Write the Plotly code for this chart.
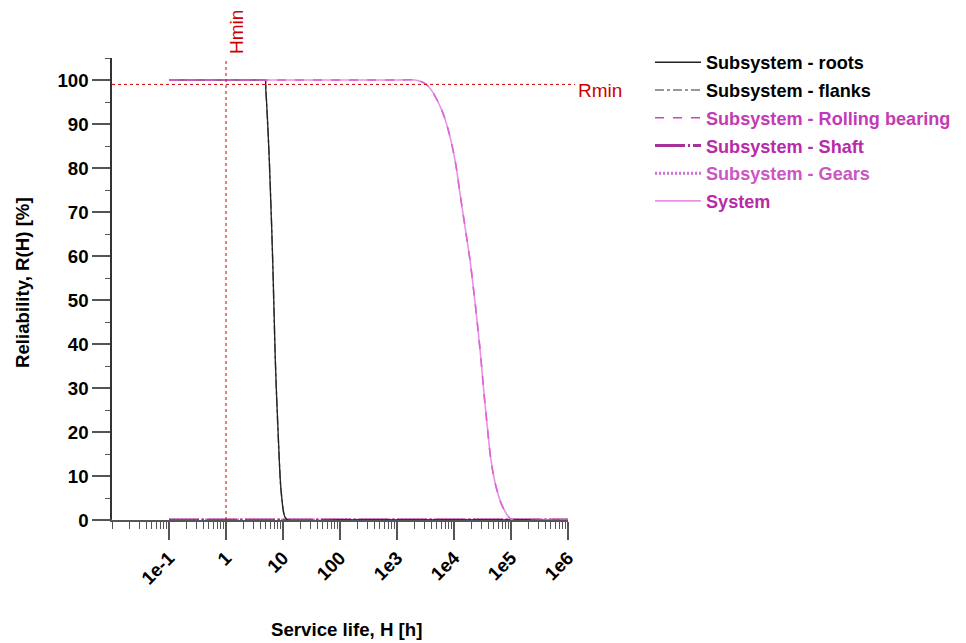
import plotly.graph_objects as go

# ---- data ----
H_roots = [0.1, 1, 4.0, 4.83, 5.0, 5.75, 6.59, 7.33, 8.61, 9.34, 10.8, 12.2, 100, 1e6]
R_roots = [100, 100, 100, 100, 97.7, 81.8, 59.1, 36.4, 13.6, 6.1, 0.7, 0, 0, 0]

H_flanks = [0.1, 1, 4.0, 4.83, 5.0, 5.75, 6.59, 7.33, 8.61, 9.34, 10.8, 12.2, 100, 1e6]
R_flanks = [100, 100, 100, 100, 97.7, 81.8, 59.1, 36.4, 13.6, 6.1, 0.7, 0, 0, 0]

H_bearing = [0.1, 10, 1000, 2070, 2710, 3400, 4340, 6080, 7640, 10420, 12740, 15590,
             19080, 22440, 26060, 29790, 33590, 38410, 44570, 54560, 71450, 105000,
             300000, 1e6]
R_bearing = [100, 100, 100, 100, 99.6, 98.8, 97.0, 93.2, 89.4, 81.8, 74.2, 66.7,
             59.1, 51.5, 43.9, 36.4, 28.8, 21.2, 13.6, 7.6, 3.0, 0, 0, 0]

H_shaft = [0.1, 1e6]
R_shaft = [0, 0]

H_gears = [0.1, 1e6]
R_gears = [0, 0]

H_system = [0.1, 10, 1000, 2070, 2710, 3400, 4340, 6080, 7640, 10420, 12740, 15590,
            19080, 22440, 26060, 29790, 33590, 38410, 44570, 54560, 71450, 105000,
            300000, 1e6]
R_system = [100, 100, 100, 100, 99.6, 98.8, 97.0, 93.2, 89.4, 81.8, 74.2, 66.7,
            59.1, 51.5, 43.9, 36.4, 28.8, 21.2, 13.6, 7.6, 3.0, 0, 0, 0]

H_min = 1
R_min = 99

x_tickvals = [0.1, 1, 10, 100, 1e3, 1e4, 1e5, 1e6]
x_ticktext = ["1e-1", "1", "10", "100", "1e3", "1e4", "1e5", "1e6"]
y_tickvals = [0, 10, 20, 30, 40, 50, 60, 70, 80, 90, 100]

FONT = "Liberation Sans, Arial, sans-serif"
RED = "#cc0000"

def lbl(text, color, bold=True):
    t = f"<span style='color:{color}'>{text}</span>"
    return f"<b>{t}</b>" if bold else t

fig = go.Figure()

fig.add_trace(go.Scatter(x=H_gears, y=R_gears, mode="lines",
                         name=lbl("Subsystem - Gears", "#cc55c4"),
                         line=dict(color="#d070d0", width=3, dash="2px,2px"),
                         legendrank=5, legendgroup="g5"))
fig.add_trace(go.Scatter(x=H_shaft, y=R_shaft, mode="lines",
                         name=lbl("Subsystem - Shaft", "#b82aa8"),
                         line=dict(color="#a8309a", width=3, dash="30px,3px,2px,3px"),
                         legendrank=4, legendgroup="g4"))
fig.add_trace(go.Scatter(x=H_flanks, y=R_flanks, mode="lines",
                         name=lbl("Subsystem - flanks", "#000000"),
                         line=dict(color="#777777", width=1.5, dash="dashdot",
                                   shape="spline", smoothing=1.0),
                         legendrank=2, legendgroup="g2"))
fig.add_trace(go.Scatter(x=H_roots, y=R_roots, mode="lines",
                         name=lbl("Subsystem - roots", "#000000"),
                         line=dict(color="#222222", width=1.3, shape="spline", smoothing=1.0),
                         legendrank=1, legendgroup="g1"))
fig.add_trace(go.Scatter(x=H_bearing, y=R_bearing, mode="lines",
                         name=lbl("Subsystem - Rolling bearing", "#c43ab4"),
                         line=dict(color="#d040c8", width=1.5, dash="dash",
                                   shape="spline", smoothing=1.0),
                         legendrank=3, legendgroup="g3"))
fig.add_trace(go.Scatter(x=H_system, y=R_system, mode="lines",
                         name=lbl("System", "#b82aa8"),
                         line=dict(color="#e070dc", width=1.6, shape="spline", smoothing=1.0),
                         opacity=0.75, legendrank=6, legendgroup="g6"))

# Hmin vertical line
fig.add_trace(go.Scatter(x=[H_min, H_min], y=[0, 105], mode="lines",
                         showlegend=False, hoverinfo="skip",
                         line=dict(color=RED, width=1, dash="dot")))

# plot area in page pixels (page is offset by the 8px body margin)
OFF = 8
W, HGT = 958, 635
PL, PR, PT, PB = 112, 568, 58, 520
PW, PH = PR - PL, PB - PT

def px(xp):
    return (xp - PL) / PW

def py(yp):
    return (PB - yp) / PH

fig.add_shape(type="line", xref="paper", yref="y", x0=0, x1=px(575),
              y0=R_min, y1=R_min, line=dict(color=RED, width=1, dash="dot"))
# x axis line extension to the left
fig.add_shape(type="line", xref="paper", yref="y", x0=px(95), x1=0,
              y0=0, y1=0, line=dict(color="#555555", width=1.5))

fig.add_annotation(text="Rmin", xref="paper", yref="paper", x=px(576), y=py(91),
                   xanchor="left", yanchor="middle", showarrow=False,
                   font=dict(family=FONT, size=19, color=RED))
fig.add_annotation(text="Hmin", xref="paper", yref="paper", x=px(236), y=py(32),
                   xanchor="center", yanchor="middle", showarrow=False, textangle=-90,
                   font=dict(family=FONT, size=19, color=RED))
fig.add_annotation(text="<b>Service life, H [h]</b>", xref="paper", yref="paper",
                   x=px(346), y=py(629), xanchor="center", yanchor="middle",
                   showarrow=False, font=dict(family=FONT, size=18.67, color="#000"))
fig.add_annotation(text="<b>Reliability, R(H) [%]</b>", xref="paper", yref="paper",
                   x=px(22), y=py(283), xanchor="center", yanchor="middle",
                   showarrow=False, textangle=-90,
                   font=dict(family=FONT, size=18.67, color="#000"))

fig.update_xaxes(type="log", range=[-2, 6], tickvals=x_tickvals, ticktext=x_ticktext,
                 tickangle=-45, ticks="outside", ticklen=18, tickwidth=1.5,
                 tickcolor="#555555", showline=True, linecolor="#555555", linewidth=1.5,
                 showgrid=False, zeroline=False, layer="below traces",
                 tickfont=dict(family=FONT, size=18.67, color="#000", weight="bold"),
                 minor=dict(dtick="D1", ticks="outside", ticklen=7, tickwidth=1.2,
                            tickcolor="#555555", showgrid=False))
fig.update_yaxes(range=[0, 105], tickvals=y_tickvals, ticks="outside", ticklen=18,
                 tickwidth=1.5, tickcolor="#555555", showline=True, linecolor="#333333",
                 linewidth=1.5, showgrid=False, zeroline=False, layer="below traces",
                 tickfont=dict(family=FONT, size=18.67, color="#000", weight="bold"),
                 minor=dict(dtick=5, ticks="outside", ticklen=5, tickwidth=1.2,
                            tickcolor="#555555", showgrid=False))

fig.update_layout(
    width=W, height=HGT,
    margin=dict(l=PL - OFF, r=W - (PR - OFF), t=PT - OFF, b=HGT - (PB - OFF),
                autoexpand=False),
    paper_bgcolor="white", plot_bgcolor="white",
    font=dict(family=FONT, size=18.67, color="#000"),
    showlegend=True,
    legend=dict(x=px(650), y=1 + (PT - 44) / PH, xanchor="left", yanchor="top",
                bgcolor="rgba(0,0,0,0)", borderwidth=0, itemwidth=46,
                traceorder="grouped", tracegroupgap=1.2,
                font=dict(family=FONT, size=18.1)),
)

fig.write_html("out.html")
